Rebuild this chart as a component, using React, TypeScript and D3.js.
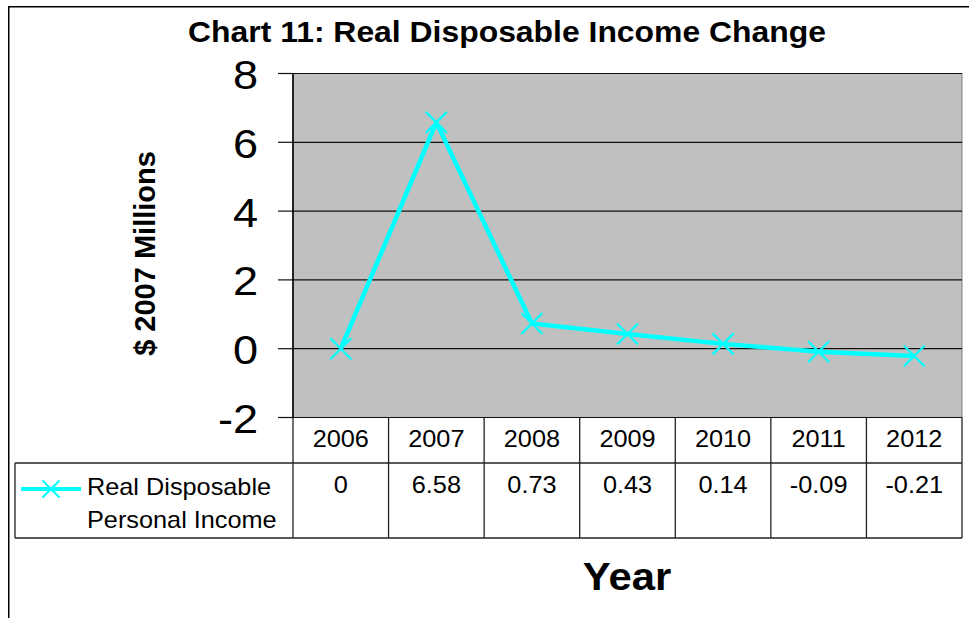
import React from 'react';
import * as d3 from 'd3';

// Chart content
const title = 'Chart 11: Real Disposable Income Change';
const yTitle = '$ 2007 Millions';
const xTitle = 'Year';
const years = ['2006', '2007', '2008', '2009', '2010', '2011', '2012'];
const income = [0, 6.58, 0.73, 0.43, 0.14, -0.09, -0.21];
const yTicks = [-2, 0, 2, 4, 6, 8];
const seriesName = ['Real Disposable', 'Personal Income'];

const W = 969;
const H = 618;
const FONT = 'Arial, "Liberation Sans", sans-serif';
const SX = 1.1; // horizontal stretch of the typeface

const plot = { left: 293, right: 962, top: 73.5, bottom: 417.5 };
const table = { left: 15, yearBottom: 463, bottom: 538 };
const CYAN = '#00FFFF';

type TProps = {
  x: number;
  y: number;
  size: number;
  anchor?: 'start' | 'middle' | 'end';
  bold?: boolean;
  rotate?: number;
  children: React.ReactNode;
};

function T({ x, y, size, anchor = 'start', bold = false, rotate = 0, children }: TProps) {
  const tf = rotate
    ? `translate(${x},${y}) rotate(${rotate}) scale(1,1)`
    : `translate(${x},${y}) scale(${SX},1)`;
  return (
    <text
      transform={tf}
      textAnchor={anchor}
      fontFamily={FONT}
      fontSize={size}
      fontWeight={bold ? 'bold' : 'normal'}
      fill="#000"
    >
      {children}
    </text>
  );
}

function Cross({ cx, cy, r, sw }: { cx: number; cy: number; r: number; sw: number }) {
  return (
    <path
      d={`M${cx - r},${cy - r}L${cx + r},${cy + r}M${cx - r},${cy + r}L${cx + r},${cy - r}`}
      stroke={CYAN}
      strokeWidth={sw}
      fill="none"
    />
  );
}

export default function App() {
  const x = d3.scaleBand<string>().domain(years).range([plot.left, plot.right]);
  const y = d3.scaleLinear().domain([-2, 8]).range([plot.bottom, plot.top]);
  const bw = x.bandwidth();
  const cx = (i: number) => (x(years[i]) as number) + bw / 2;

  const line = d3
    .line<number>()
    .x((_, i) => cx(i))
    .y((d) => y(d));

  const gridColor = '#111';
  const tableColor = '#222';

  return (
    <svg
      width={W}
      height={H}
      style={{ position: 'absolute', left: 0, top: 0, background: '#fff' }}
    >
      {/* chart frame, extending past the right and bottom edges */}
      <rect x={8.75} y={6.75} width={1100} height={800} fill="#fff" stroke="#000" strokeWidth={1.5} />

      {/* title */}
      <T x={507} y={42} size={29} anchor="middle" bold>
        {title}
      </T>

      {/* plot area */}
      <rect
        x={plot.left}
        y={plot.top}
        width={plot.right - plot.left}
        height={plot.bottom - plot.top}
        fill="#C0C0C0"
        stroke="#808080"
        strokeWidth={1}
      />

      {/* gridlines and ticks */}
      {yTicks.map((t) => (
        <g key={t}>
          <line x1={plot.left} x2={plot.right} y1={y(t)} y2={y(t)} stroke={gridColor} strokeWidth={1.2} />
          <line x1={278} x2={plot.left} y1={y(t)} y2={y(t)} stroke={gridColor} strokeWidth={1.2} />
          <T x={258} y={y(t) + 15.5} size={41} anchor="end">
            {String(t)}
          </T>
        </g>
      ))}

      {/* value axis line */}
      <line x1={plot.left} x2={plot.left} y1={plot.top} y2={plot.bottom} stroke="#000" strokeWidth={1.6} />

      {/* y-axis title */}
      <T x={155} y={253.5} size={29} anchor="middle" bold rotate={-90}>
        {yTitle}
      </T>

      {/* series line */}
      <path d={line(income) || ''} fill="none" stroke={CYAN} strokeWidth={4.5} strokeLinejoin="round" />
      {income.map((v, i) => (
        <Cross key={i} cx={cx(i)} cy={y(v)} r={10.5} sw={2.2} />
      ))}

      {/* data table */}
      <g stroke={tableColor} strokeWidth={1.3}>
        <line x1={table.left} x2={plot.right} y1={table.yearBottom} y2={table.yearBottom} />
        <line x1={table.left} x2={plot.right} y1={table.bottom} y2={table.bottom} />
        <line x1={table.left} x2={table.left} y1={table.yearBottom} y2={table.bottom} />
        {years.map((yr) => (
          <line key={yr} x1={x(yr)} x2={x(yr)} y1={plot.bottom} y2={table.bottom} />
        ))}
        <line x1={plot.right} x2={plot.right} y1={plot.bottom} y2={table.bottom} />
      </g>

      {years.map((yr, i) => (
        <g key={yr}>
          <T x={cx(i)} y={446.5} size={23} anchor="middle">
            {yr}
          </T>
          <T x={cx(i)} y={493} size={23} anchor="middle">
            {String(income[i])}
          </T>
        </g>
      ))}

      {/* legend key */}
      <line x1={21} x2={81} y1={489} y2={489} stroke={CYAN} strokeWidth={4} />
      <Cross cx={51} cy={489} r={8.5} sw={2} />
      <T x={87} y={495} size={23}>
        {seriesName[0]}
      </T>
      <T x={87} y={527.5} size={23}>
        {seriesName[1]}
      </T>

      {/* category axis title */}
      <T x={627} y={590} size={38} anchor="middle" bold>
        {xTitle}
      </T>
    </svg>
  );
}
